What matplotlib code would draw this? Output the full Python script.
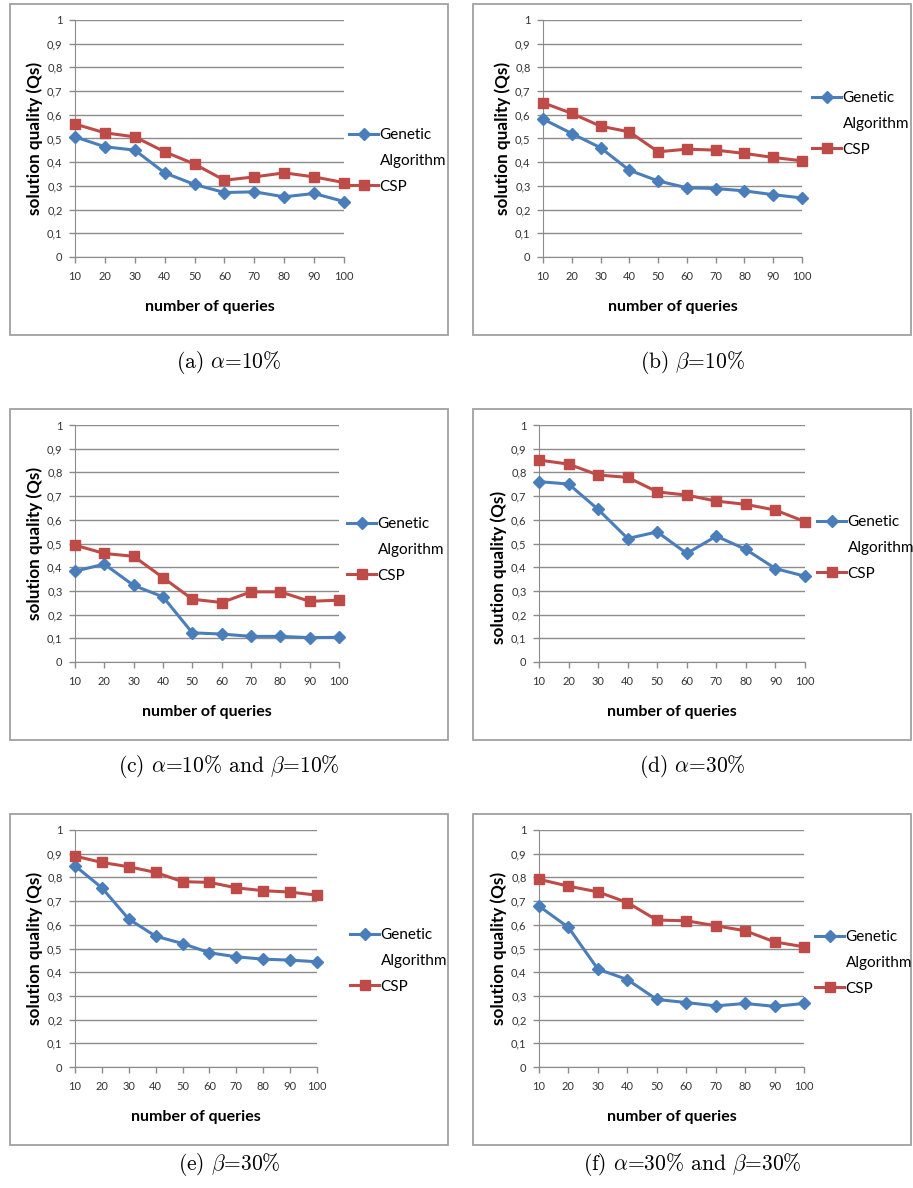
import matplotlib
matplotlib.use("Agg")
import matplotlib.pyplot as plt
from matplotlib.lines import Line2D
from matplotlib.patches import Rectangle

plt.rcParams['font.family'] = ['Lato', 'DejaVu Sans']
plt.rcParams['mathtext.fontset'] = 'cm'

queries = [10, 20, 30, 40, 50, 60, 70, 80, 90, 100]
yticks = [0, 0.1, 0.2, 0.3, 0.4, 0.5, 0.6, 0.7, 0.8, 0.9, 1]
ytick_labels = ['0', '0,1', '0,2', '0,3', '0,4', '0,5', '0,6', '0,7', '0,8', '0,9', '1']

ga_a = [0.507, 0.465, 0.451, 0.355, 0.306, 0.272, 0.275, 0.254, 0.268, 0.234]
csp_a = [0.561, 0.524, 0.507, 0.444, 0.392, 0.324, 0.338, 0.355, 0.338, 0.314]

ga_b = [0.582, 0.521, 0.461, 0.366, 0.321, 0.292, 0.289, 0.279, 0.263, 0.249]
csp_b = [0.651, 0.606, 0.552, 0.528, 0.444, 0.455, 0.451, 0.437, 0.420, 0.406]

ga_c = [0.383, 0.413, 0.323, 0.275, 0.123, 0.118, 0.108, 0.108, 0.103, 0.104]
csp_c = [0.493, 0.458, 0.446, 0.356, 0.265, 0.251, 0.296, 0.296, 0.256, 0.261]

ga_d = [0.761, 0.751, 0.644, 0.521, 0.549, 0.458, 0.531, 0.475, 0.394, 0.362]
csp_d = [0.852, 0.835, 0.789, 0.779, 0.718, 0.704, 0.679, 0.665, 0.641, 0.592]

ga_e = [0.849, 0.756, 0.624, 0.552, 0.521, 0.482, 0.465, 0.455, 0.451, 0.444]
csp_e = [0.890, 0.863, 0.845, 0.821, 0.782, 0.779, 0.756, 0.744, 0.738, 0.725]

ga_f = [0.679, 0.589, 0.413, 0.369, 0.285, 0.272, 0.258, 0.268, 0.256, 0.268]
csp_f = [0.792, 0.763, 0.739, 0.694, 0.620, 0.617, 0.596, 0.575, 0.528, 0.507]

captions = [r'(a) $\alpha$=10%', r'(b) $\beta$=10%',
            r'(c) $\alpha$=10% and $\beta$=10%', r'(d) $\alpha$=30%',
            r'(e) $\beta$=30%', r'(f) $\alpha$=30% and $\beta$=30%']

W, H = 913, 1188
fig = plt.figure(figsize=(W / 100, H / 100), dpi=100)

BLUE = '#4A7EBB'
RED = '#BE4B48'
GRID = '#8C8C8C'


def px(l, t, r, b):
    return [l / W, 1 - b / H, (r - l) / W, (b - t) / H]


# pixel layout: (axes box, frame box, legend top-left, caption centre, ylabel y)
panels = [
    (ga_a, csp_a, (75, 20, 344, 257), (10, 4, 448, 335), (349, 128), (229, 362), 0.5),
    (ga_b, csp_b, (543, 20, 802, 257), (473, 4, 911, 335), (812, 91), (692, 362), 0.5),
    (ga_c, csp_c, (75, 425, 339, 662), (10, 409, 448, 740), (347, 517), (229, 767), 0.5),
    (ga_d, csp_d, (539, 425, 805, 662), (473, 409, 911, 740), (817, 515), (692, 767), 0.4),
    (ga_e, csp_e, (75, 830, 317, 1067), (10, 814, 448, 1145), (350, 928), (229, 1165), 0.5),
    (ga_f, csp_f, (539, 830, 804, 1067), (473, 814, 911, 1145), (815, 930), (692, 1165), 0.5),
]

for i, (ga, csp, abox, fbox, leg, cap, ylab_y) in enumerate(panels):
    l, t, r, b = fbox
    fig.patches.append(Rectangle((l / W, 1 - b / H), (r - l) / W, (b - t) / H,
                                 transform=fig.transFigure, fill=False,
                                 edgecolor='#A0A0A0', linewidth=1.3))

    ax = fig.add_axes(px(*abox))
    ax.plot(queries, ga, color=BLUE, linewidth=2.2, marker='D', markersize=6,
            label='Genetic', clip_on=False, zorder=3)
    ax.plot(queries, csp, color=RED, linewidth=2.2, marker='s', markersize=7,
            label='CSP', clip_on=False, zorder=3)
    ax.set_xlim(10, 100)
    ax.set_ylim(0, 1)
    ax.set_xticks(queries)
    ax.set_xticklabels([str(q) for q in queries], fontsize=8, color='#333333')
    ax.set_yticks(yticks)
    ax.set_yticklabels(ytick_labels, fontsize=8, color='#333333')
    ax.grid(axis='y', color=GRID, linewidth=1.0)
    ax.set_axisbelow(True)
    for s in ['top', 'right']:
        ax.spines[s].set_visible(False)
    for s in ['left', 'bottom']:
        ax.spines[s].set_color(GRID)
    ax.tick_params(axis='both', color=GRID, length=4, width=1.0)
    ax.tick_params(axis='x', pad=6)
    ax.tick_params(axis='y', pad=5)
    ax.set_xlabel('number of queries', fontsize=11.5, fontweight='bold', labelpad=13)
    ax.set_ylabel('solution quality (Qs)', fontsize=12.3, fontweight='bold',
                  labelpad=3, y=ylab_y)

    handles = [Line2D([], [], color=BLUE, linewidth=2.2, marker='D', markersize=6),
               Line2D([], [], linestyle='none'),
               Line2D([], [], color=RED, linewidth=2.2, marker='s', markersize=7)]
    fig.legend(handles, ['Genetic', 'Algorithm', 'CSP'], loc='upper left',
               bbox_to_anchor=(leg[0] / W, 1 - leg[1] / H), frameon=False,
               fontsize=11, handlelength=1.9, handletextpad=0.1,
               labelspacing=0.78, borderpad=0, borderaxespad=0)

    fig.text(cap[0] / W, 1 - cap[1] / H, captions[i], ha='center', va='center',
             fontsize=15.5, family='cmr10')

fig.savefig('out.png', dpi=100)
